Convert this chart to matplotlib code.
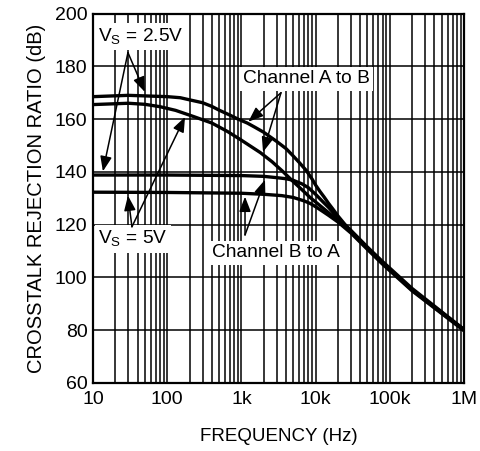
import matplotlib
matplotlib.use("Agg")
import matplotlib.pyplot as plt
from matplotlib.ticker import LogLocator, FixedLocator, NullFormatter

plt.rcParams["font.family"] = ["Liberation Sans", "DejaVu Sans"]
plt.rcParams["mathtext.fontset"] = "custom"
plt.rcParams["mathtext.rm"] = "Liberation Sans"

# Channel A to B, VS = 2.5V
f_ab_25 = [10, 30, 100, 150, 200, 300, 400, 500, 700, 900, 1200, 1500, 2000, 3000, 4000,
           5000, 6000, 7500, 9000, 10000, 11500, 13000, 15000, 17000, 20000, 25000, 30000,
           50000, 80000, 200000, 1e6]
db_ab_25 = [168.5, 169, 168.5, 168.1, 167.3, 166.2, 164.8, 163.4, 161.5, 160, 158.5, 157, 155,
            151.5, 148.8, 146, 143.6, 140.5, 137.2, 135, 132.5, 130.5, 128, 126, 123.3, 120,
            117.8, 111.5, 106, 95.8, 80.3]

# Channel A to B, VS = 5V
f_ab_5 = [10, 30, 50, 80, 130, 225, 400, 650, 1000, 1800, 2600, 3600, 5000, 6800, 8500,
          10000, 15000, 20000, 25000, 30000, 50000, 80000, 200000, 1e6]
db_ab_5 = [165.5, 166, 165.6, 164.7, 163.3, 161, 158.5, 155.3, 152, 147.3, 143.8, 140.2,
           136.3, 132.8, 130.2, 128.6, 124.5, 121.6, 119.3, 117.2, 111, 105.5, 95.3, 80]

# Channel B to A, VS = 2.5V
f_ba_25 = [10, 100, 1000, 2000, 3000, 4000, 5000, 6500, 8000, 10000, 12500, 15000, 20000,
           30000, 50000, 80000, 200000, 1e6]
db_ba_25 = [138.8, 138.8, 138.6, 138.3, 137.8, 137.4, 136.8, 135.5, 134, 131.5, 128.7, 126.5,
            122.5, 117.3, 111, 105.3, 95.2, 80.2]

# Channel B to A, VS = 5V
f_ba_5 = [10, 100, 1000, 2000, 3500, 5000, 7000, 8500, 10000, 12500, 15000, 20000, 30000,
          50000, 80000, 200000, 1e6]
db_ba_5 = [132.3, 132.2, 131.9, 131.5, 131, 130.3, 129, 128, 126.8, 125, 123.5, 121, 116.8,
           110.6, 105, 94.9, 79.8]

x_ticks = [10, 100, 1e3, 1e4, 1e5, 1e6]
x_labels = ["10", "100", "1k", "10k", "100k", "1M"]
y_ticks = [60, 80, 100, 120, 140, 160, 180, 200]

fig = plt.figure(figsize=(4.81, 4.51), dpi=100)
ax = fig.add_axes([0.1933, 0.1508, 0.7714, 0.8192])

for f, db in [(f_ab_25, db_ab_25), (f_ab_5, db_ab_5), (f_ba_25, db_ba_25), (f_ba_5, db_ba_5)]:
    ax.plot(f, db, color="black", lw=2.4, solid_joinstyle="round", zorder=4)

ax.set_xscale("log")
ax.set_xlim(10, 1e6)
ax.set_ylim(60, 200)
ax.xaxis.set_major_locator(FixedLocator(x_ticks))
ax.set_xticklabels(x_labels)
ax.xaxis.set_minor_locator(LogLocator(base=10, subs=range(2, 10), numticks=20))
ax.xaxis.set_minor_formatter(NullFormatter())
ax.set_yticks(y_ticks)
ax.grid(which="major", color="black", lw=1.1, zorder=1)
ax.grid(which="minor", axis="x", color="black", lw=1.1, zorder=1)
ax.set_axisbelow(True)
ax.tick_params(which="both", length=0, labelsize=14, colors="black")
ax.tick_params(axis="x", pad=6)
ax.tick_params(axis="y", pad=4)
for s in ax.spines.values():
    s.set_linewidth(1.6)

ax.set_xlabel("FREQUENCY (Hz)", fontsize=13.5, labelpad=14)
ax.set_ylabel("CROSSTALK REJECTION RATIO (dB)", fontsize=14.5, labelpad=6)

box = dict(facecolor="white", edgecolor="none", pad=2.5)
txt = dict(ha="center", va="center", fontsize=13.8, bbox=box, zorder=5)
ax.text(44, 191.3, r"V$_{\rm S}$ = 2.5V", **txt)
ax.text(34.6, 114.6, r"V$_{\rm S}$ = 5V", **txt)
ax.text(7430, 175.3, "Channel A to B", **txt)
ax.text(2925, 109.3, "Channel B to A", **txt)

arr = dict(arrowstyle="-|>,head_length=0.9,head_width=0.35", color="black", lw=1.1,
           shrinkA=0, shrinkB=0)
arrows = [
    ((29.6, 185.2), (50, 170.3)),
    ((29.6, 185.2), (13.6, 140.2)),
    ((33.5, 119.2), (29.6, 131.0)),
    ((33.5, 119.2), (174, 160.8)),
    ((3420, 170.0), (1239, 159.0)),
    ((3420, 170.0), (1956, 147.5)),
    ((1119, 116.1), (1119, 130.6)),
    ((1119, 116.1), (2080, 137.0)),
]
for start, end in arrows:
    ax.annotate("", xy=end, xytext=start, arrowprops=arr, zorder=6)

fig.savefig("out.png", dpi=100, facecolor="white")
